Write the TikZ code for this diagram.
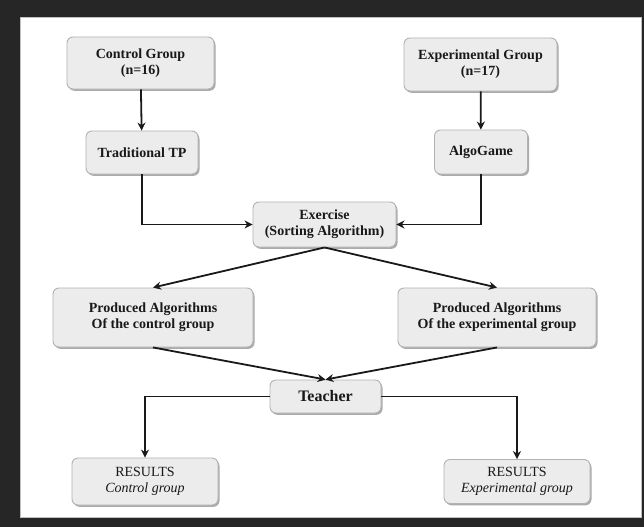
\documentclass[tikz,border=0pt]{standalone}
\usepackage{fontspec}
\setmainfont{Liberation Serif}
\usetikzlibrary{arrows.meta, shadows}

\begin{document}
\begin{tikzpicture}[
		x=1pt, y=-1pt,
		>={Stealth[length=8pt, width=8pt]},
		% Define styles
		base/.style={rectangle, rounded corners=6pt, draw=gray!60, line width=0.9pt, fill=gray!15, align=center, inner sep=2pt, text=black!90,
			drop shadow={shadow xshift=1.5pt, shadow yshift=-1.8pt, fill=black!55, opacity=0.6}},
		group/.style={base, font=\fontsize{14}{16}\selectfont\bfseries},
		teacher/.style={base, font=\fontsize{16}{18}\selectfont\bfseries},
		result/.style={base, font=\fontsize{14}{16}\selectfont},
		link/.style={->, line width=1.8pt, black!90}
		]
		
		% Frame
		\useasboundingbox (0,0) rectangle (644,527);
		\fill[black!85] (0,0) rectangle (644,527);
		\fill[white] (20,17) rectangle (641,517);
		\draw[gray!50] (20,17) rectangle (641,517);
		
		% 1. The two groups
		\node[group, minimum width=147pt, minimum height=52pt] (control) at (140.5,63) {Control Group\\(n=16)};
		\node[group, minimum width=153pt, minimum height=53pt] (experimental) at (480.5,64.5) {Experimental Group\\(n=17)};
		
		% 2. The two treatments
		\node[group, minimum width=112pt, minimum height=43pt] (traditional) at (142,152.5) {Traditional TP};
		\node[group, minimum width=93pt, minimum height=44pt] (algogame) at (481,152) {AlgoGame};
		
		% 3. The exercise
		\node[group, minimum width=143pt, minimum height=45pt] (exercise) at (324.5,224.5) {Exercise\\(Sorting Algorithm)};
		
		% 4. Produced algorithms
		\node[group, minimum width=200pt, minimum height=59pt] (prodcontrol) at (153,317.5) {Produced Algorithms\\Of the control group};
		\node[group, minimum width=198pt, minimum height=59pt] (prodexp) at (497,317.5) {Produced Algorithms\\Of the experimental group};
		
		% 5. Teacher
		\node[teacher, minimum width=111pt, minimum height=33pt] (teach) at (325.5,396.5) {Teacher};
		
		% 6. Results
		\node[result, minimum width=146pt, minimum height=47pt] (rescontrol) at (145,481.5) {RESULTS\\\textit{Control group}};
		\node[result, minimum width=146pt, minimum height=44pt] (resexp) at (517,481.5) {RESULTS\\\textit{Experimental group}};
		
		% Connections
		\draw[link] (control) -- (traditional);
		\draw[link] (experimental) -- (algogame);
		\draw[link] (traditional) |- (exercise);
		\draw[link] (algogame) |- (exercise);
		\draw[link] (exercise.south) -- (prodcontrol.north);
		\draw[link] (exercise.south) -- (prodexp.north);
		\draw[link] (prodcontrol.south) -- (teach.north);
		\draw[link] (prodexp.south) -- (teach.north);
		\draw[link] (teach) -| (rescontrol);
		\draw[link] (teach) -| (resexp);
		
	\end{tikzpicture}
\end{document}
